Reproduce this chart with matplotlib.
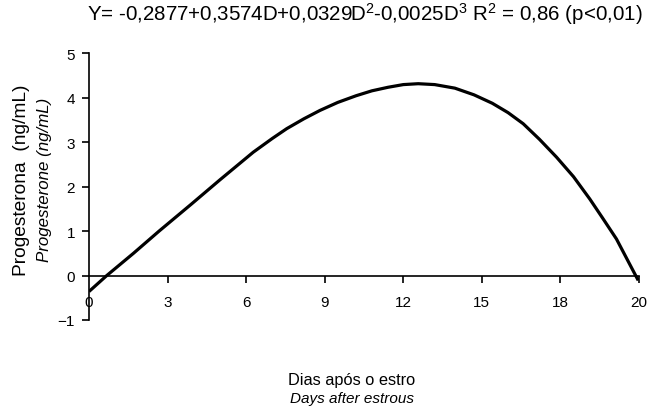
"""Progesterone curve after estrous, redrawn from the reference figure."""
import numpy as np
import matplotlib
matplotlib.use("Agg")
import matplotlib.pyplot as plt

plt.rcParams["font.family"] = ["Liberation Sans", "DejaVu Sans"]
plt.rcParams["mathtext.fontset"] = "custom"
plt.rcParams["mathtext.rm"] = "Liberation Sans"
plt.rcParams["mathtext.default"] = "regular"

# curve points (x in axis units, y in ng/mL)
days = [0.0, 0.68, 1.7, 2.68, 3.9, 5.0, 6.27, 7.0, 7.55, 8.2, 8.82, 9.5,
        10.2, 10.8, 11.42, 12.0, 12.57, 13.2, 13.97, 14.7, 15.4, 16.0,
        16.58, 17.2, 17.85, 18.5, 19.12, 19.6, 20.14, 20.55, 20.97]
prog = [-0.36, 0.0, 0.5, 1.0, 1.6, 2.15, 2.77, 3.08, 3.30, 3.52, 3.71, 3.89,
        4.04, 4.15, 4.23, 4.29, 4.31, 4.29, 4.21, 4.06, 3.87, 3.66,
        3.41, 3.06, 2.66, 2.22, 1.72, 1.30, 0.82, 0.36, -0.11]

xtick_pos = [0, 3, 6, 9, 12, 15, 18, 21]
xtick_lab = ["0", "3", "6", "9", "12", "15", "18", "20"]
ytick_pos = [-1, 0, 1, 2, 3, 4, 5]

fig = plt.figure(figsize=(6.51, 4.14), dpi=100)
ax = fig.add_axes([89/651, 1 - 321/414, (639 - 89)/651, (321 - 54)/414])

ax.plot(days, prog, color="black", lw=2.3, solid_capstyle="butt",
        solid_joinstyle="round")

ax.set_xlim(0, 21)
ax.set_ylim(-1, 5)
ax.spines["top"].set_visible(False)
ax.spines["right"].set_visible(False)
ax.spines["bottom"].set_position(("data", 0))
ax.spines["left"].set_linewidth(1.2)
ax.spines["bottom"].set_linewidth(1.2)

ax.set_xticks(xtick_pos)
ax.set_xticklabels(xtick_lab)
ax.set_yticks(ytick_pos)
ax.tick_params(axis="x", direction="out", length=5, width=1.2, pad=9, labelsize=11)
ax.tick_params(axis="y", direction="out", length=5, width=1.2, pad=5, labelsize=11)
ax.xaxis.get_major_ticks()[0].tick1line.set_visible(False)

fig.text(22/651, 1 - 180/414, "Progesterona  (ng/mL)", rotation=90,
         ha="center", va="center", fontsize=13.8)
fig.text(45/651, 1 - 180/414, "Progesterone (ng/mL)", rotation=90,
         ha="center", va="center", fontsize=12.2, style="italic")

fig.text(352/651, 1 - 381/414, "Dias após o estro", ha="center", va="center",
         fontsize=11.8)
fig.text(352/651, 1 - 399/414, "Days after estrous", ha="center", va="center",
         fontsize=11, style="italic")

fig.text(365/651, 1 - 14/414,
         "Y= -0,2877+0,3574D+0,0329D$^2$-0,0025D$^3$ R$^2$ = 0,86 (p<0,01)",
         ha="center", va="center", fontsize=14.8)

fig.savefig("out.png", dpi=100)
print("saved out.png")
